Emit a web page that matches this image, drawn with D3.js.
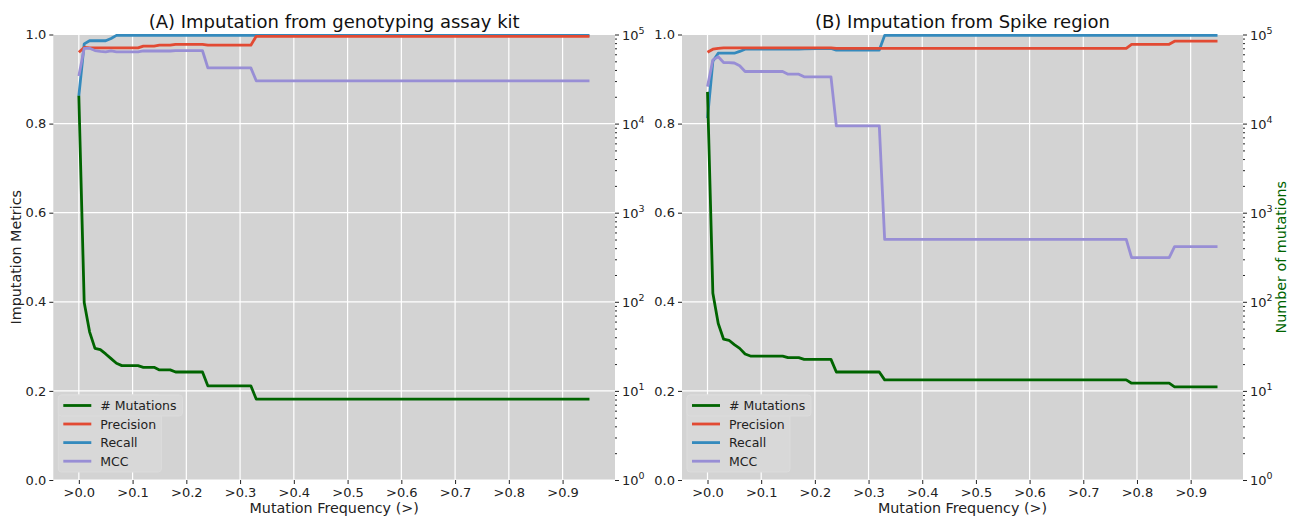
<!DOCTYPE html>
<html>
<head>
<meta charset="utf-8">
<script src="https://cdn.jsdelivr.net/npm/d3@7"></script>
<style>
  body { margin: 0; background: #fff; }
  svg { font-family: "DejaVu Sans", sans-serif; }
</style>
</head>
<body>
<script>
// thresholds where something changes, panel A (genotyping assay kit)
var freqA = [0, .01, .02, .03, .04, .05, .06, .07, .08, .11, .12, .14, .15, .17, .18, .23, .24, .32, .33, .95];
var mutA  = [20500, 98, 46, 30, 29, 26, 23, 20.4, 19.2, 19.2, 18.4, 18.4, 17.2, 17.2, 16.3, 16.3, 11.4, 11.4, 8.1, 8.1];
var precA = [.960, .971, .970, .970, .970, .970, .970, .970, .970, .970, .974, .974, .976, .976, .978, .978, .976, .976, .996, .996];
var recA  = [.862, .979, .986, .986, .986, .986, .991, .998, .998, .998, .998, .998, .998, .998, .998, .998, .998, .998, .998, .998];
var mccA  = [.907, .969, .969, .964, .962, .961, .963, .961, .961, .961, .963, .963, .963, .963, .964, .964, .925, .925, .896, .896];

// panel B (Spike region)
var freqB = [0, .01, .02, .03, .04, .05, .06, .07, .08, .14, .15, .17, .18, .23, .24, .32, .33, .78, .79, .86, .87, .95];
var mutB  = [22700, 125, 57, 38, 37, 33, 30, 26, 24.6, 24.6, 23.6, 23.6, 22.6, 22.6, 16.3, 16.3, 13.3, 13.3, 12.2, 12.2, 11.1, 11.1];
var precB = [.960, .967, .969, .970, .970, .970, .970, .970, .970, .970, .970, .970, .970, .970, .969, .969, .969, .969, .978, .978, .985, .985];
var recB  = [.812, .940, .958, .958, .958, .958, .962, .967, .967, .967, .967, .967, .968, .969, .965, .965, .998, .998, .998, .998, .998, .998];
var mccB  = [.883, .943, .950, .937, .937, .936, .930, .917, .917, .917, .911, .911, .905, .905, .795, .795, .540, .540, .499, .499, .524, .524];

var xTicks = [0, .1, .2, .3, .4, .5, .6, .7, .8, .9];
var yTicks = [0, .2, .4, .6, .8, 1];
var logTicks = [1, 10, 100, 1000, 10000, 100000];
var seriesNames = ["# Mutations", "Precision", "Recall", "MCC"];
var colors = {mut: "#006400", prec: "#E24A33", rec: "#348ABD", mcc: "#988ED5"};

var W = 1296, H = 517;
var plotTop = 34.5, plotBot = 480;

var svg = d3.select("body").append("svg")
    .attr("width", W)
    .attr("height", H);

function panel(x0, x1, title, freq, mut, prec, rec, mcc, rightLabel) {
    var x = d3.scaleLinear().domain([-0.0475, 0.9975]).range([x0, x1]);
    var y = d3.scaleLinear().domain([0, 1]).range([plotBot, plotTop]);
    var yl = d3.scaleLog().domain([1, 1e5]).range([plotBot, plotTop]);

    var g = svg.append("g");

    g.append("rect")
        .attr("x", x0).attr("y", plotTop)
        .attr("width", x1 - x0).attr("height", plotBot - plotTop)
        .style("fill", "#d3d3d3");

    // grid
    g.selectAll(".gx").data(xTicks).enter().append("line")
        .attr("x1", function(d) { return x(d); })
        .attr("x2", function(d) { return x(d); })
        .attr("y1", plotTop).attr("y2", plotBot)
        .attr("stroke", "#fff").attr("stroke-width", 1.2);
    g.selectAll(".gy").data(yTicks).enter().append("line")
        .attr("y1", function(d) { return y(d); })
        .attr("y2", function(d) { return y(d); })
        .attr("x1", x0).attr("x2", x1)
        .attr("stroke", "#fff").attr("stroke-width", 1.2);

    // left axis
    var ay = g.append("g").attr("transform", "translate(" + x0 + ",0)")
        .call(d3.axisLeft(y).tickValues(yTicks).tickFormat(d3.format(".1f")).tickSize(4).tickPadding(3));
    // bottom axis
    var ax = g.append("g").attr("transform", "translate(0," + plotBot + ")")
        .call(d3.axisBottom(x).tickValues(xTicks).tickFormat(function(d) { return ">" + d.toFixed(1); }).tickSize(4).tickPadding(4));
    // right log axis
    var minor = [];
    for (var e = 0; e < 5; e++) {
        for (var k = 2; k < 10; k++) minor.push(k * Math.pow(10, e));
    }
    var ar = g.append("g").attr("transform", "translate(" + x1 + ",0)")
        .call(d3.axisRight(yl).tickValues(logTicks).tickFormat("").tickSize(4));
    var am = g.append("g").attr("transform", "translate(" + x1 + ",0)")
        .call(d3.axisRight(yl).tickValues(minor).tickFormat("").tickSize(2));

    [ay, ax, ar, am].forEach(function(a) {
        a.select(".domain").remove();
        a.selectAll("text").style("font-size", "13px").style("fill", "#222").style("font-family", "DejaVu Sans");
        a.selectAll("line").attr("stroke", "#222");
    });

    var rl = g.selectAll(".rl").data(logTicks).enter().append("text")
        .attr("x", x1 + 7)
        .attr("y", function(d) { return yl(d) + 5; })
        .style("font-size", "13px").style("fill", "#222");
    rl.append("tspan").text("10");
    rl.append("tspan").attr("dy", -6).style("font-size", "9.5px")
        .text(function(d) { return Math.round(Math.log10(d)); });

    // lines (recall under precision, like the original)
    var lineM = d3.line().x(function(d, i) { return x(freq[i]); }).y(function(d) { return y(d); });
    var lineL = d3.line().x(function(d, i) { return x(freq[i]); }).y(function(d) { return yl(d); });

    [[rec, colors.rec], [prec, colors.prec], [mcc, colors.mcc]].forEach(function(s) {
        g.append("path").datum(s[0])
            .attr("d", lineM)
            .attr("fill", "none")
            .attr("stroke", s[1])
            .attr("stroke-width", 2.8)
            .attr("stroke-linejoin", "round");
    });

    // legend of the metrics axis (underneath)
    var lx = x0 + 5, ly = plotBot - 85;
    g.append("rect").attr("x", lx).attr("y", ly).attr("width", 103).attr("height", 77)
        .attr("rx", 3).style("fill", "#d8d8d8").style("stroke", "#dcdcdc");
    [["Precision", colors.prec], ["Recall", colors.rec], ["MCC", colors.mcc]].forEach(function(s, i) {
        var yy = ly + 29 + i * 18.6;
        g.append("line").attr("x1", lx + 5).attr("x2", lx + 33).attr("y1", yy).attr("y2", yy)
            .attr("stroke", s[1]).attr("stroke-width", 2.8);
        g.append("text").attr("x", lx + 42).attr("y", yy + 4.5).text(s[0])
            .style("font-size", "12.5px").style("fill", "#222");
    });

    g.append("path").datum(mut)
        .attr("d", lineL)
        .attr("fill", "none")
        .attr("stroke", colors.mut)
        .attr("stroke-width", 2.8)
        .attr("stroke-linejoin", "round");

    // legend of the mutation-count axis (on top)
    g.append("rect").attr("x", lx).attr("y", ly).attr("width", 124).attr("height", 21)
        .attr("rx", 3).style("fill", "#d8d8d8").style("stroke", "#dcdcdc");
    g.append("line").attr("x1", lx + 5).attr("x2", lx + 33).attr("y1", ly + 10.5).attr("y2", ly + 10.5)
        .attr("stroke", colors.mut).attr("stroke-width", 2.8);
    g.append("text").attr("x", lx + 42).attr("y", ly + 15).text(seriesNames[0])
        .style("font-size", "12.5px").style("fill", "#222");

    // titles and labels
    g.append("text").attr("x", (x0 + x1) / 2).attr("y", 28)
        .attr("text-anchor", "middle").style("font-size", "18px").style("fill", "#111")
        .text(title);
    g.append("text").attr("x", (x0 + x1) / 2).attr("y", 513)
        .attr("text-anchor", "middle").style("font-size", "14.3px").style("fill", "#222")
        .text("Mutation Frequency (>)");

    if (rightLabel) {
        g.append("text")
            .attr("transform", "translate(" + 1286 + "," + ((plotTop + plotBot) / 2) + ") rotate(-90)")
            .attr("text-anchor", "middle").style("font-size", "14.3px").style("fill", colors.mut)
            .text("Number of mutations");
    }
}

panel(53.3, 615, "(A) Imputation from genotyping assay kit", freqA, mutA, precA, recA, mccA, false);
panel(682, 1243, "(B) Imputation from Spike region", freqB, mutB, precB, recB, mccB, true);

svg.append("text")
    .attr("transform", "translate(21," + ((plotTop + plotBot) / 2) + ") rotate(-90)")
    .attr("text-anchor", "middle").style("font-size", "14.3px").style("fill", "#222")
    .text("Imputation Metrics");
</script>
</body>
</html>
